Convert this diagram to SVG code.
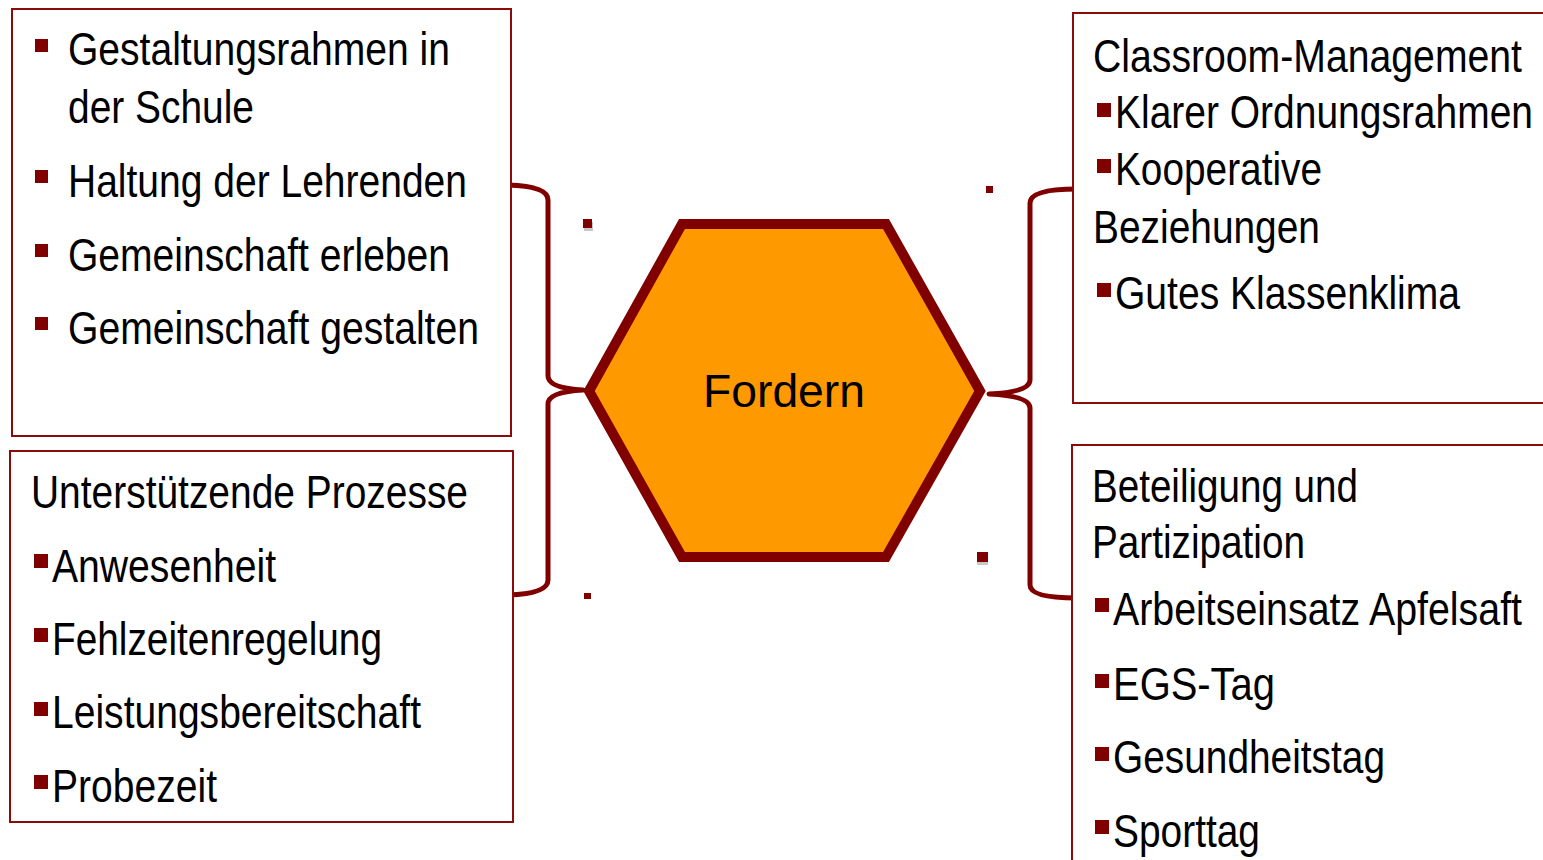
<svg xmlns="http://www.w3.org/2000/svg" width="1543" height="860" viewBox="0 0 1543 860">
<style>
.box{fill:#fff;stroke:#8b0a0a;stroke-width:2}
.t{font-family:"Liberation Sans",Arial,sans-serif;font-size:46px;fill:#000}
.b{fill:#800000}
.br{fill:none;stroke:#800000;stroke-width:5;stroke-linejoin:round}
.dot{fill:#800000}
.sh{fill:#c8c8c8}
</style>
<rect width="1543" height="860" fill="#fff"/>
<g id="connectors">
<path class="br" d="M507,185 Q548,186 548,200 L548,376 Q548,388 583,390 Q548,392 548,404 L548,580 Q548,594 507,595"/>
<path class="br" d="M1077,189 Q1030,189 1030,203 L1030,380 Q1030,392 989,394 Q1030,396 1030,408 L1030,585 Q1030,598 1077,598"/>
<rect class="sh" x="584" y="222" width="9" height="9"/>
<rect class="dot" x="583" y="219" width="9" height="9"/>
<rect class="dot" x="584" y="593" width="7" height="6"/>
<rect class="dot" x="986" y="186" width="7" height="7"/>
<rect class="sh" x="977" y="555" width="11" height="10"/>
<rect class="dot" x="977" y="552" width="11" height="10"/>
</g>
<g id="hexagon">
<polygon class="sh" points="592,394 685,227 889,227 983,394 889,560 685,560"/>
<polygon points="589,391 682,224 886,224 980,391 886,557 682,557" fill="#ff9900" stroke="#800000" stroke-width="10" stroke-linejoin="miter"/>
<text class="t" x="703" y="407" textLength="162" lengthAdjust="spacingAndGlyphs">Fordern</text>
</g>
<g id="box-gestaltung">
<rect class="box" x="12" y="9" width="499" height="427"/>
<rect class="b" x="35" y="39" width="13" height="13"/>
<text class="t" x="68" y="65" textLength="382" lengthAdjust="spacingAndGlyphs">Gestaltungsrahmen in</text>
<text class="t" x="68" y="123" textLength="186" lengthAdjust="spacingAndGlyphs">der Schule</text>
<rect class="b" x="35" y="170" width="13" height="13"/>
<text class="t" x="68" y="197" textLength="399" lengthAdjust="spacingAndGlyphs">Haltung der Lehrenden</text>
<rect class="b" x="35" y="244" width="13" height="13"/>
<text class="t" x="68" y="271" textLength="382" lengthAdjust="spacingAndGlyphs">Gemeinschaft erleben</text>
<rect class="b" x="35" y="317" width="13" height="13"/>
<text class="t" x="68" y="344" textLength="411" lengthAdjust="spacingAndGlyphs">Gemeinschaft gestalten</text>
</g>
<g id="box-prozesse">
<rect class="box" x="10" y="451" width="503" height="371"/>
<text class="t" x="31" y="508" textLength="437" lengthAdjust="spacingAndGlyphs">Unterstützende Prozesse</text>
<rect class="b" x="34" y="554" width="14" height="14"/>
<text class="t" x="52" y="582" textLength="224" lengthAdjust="spacingAndGlyphs">Anwesenheit</text>
<rect class="b" x="34" y="628" width="14" height="14"/>
<text class="t" x="52" y="655" textLength="330" lengthAdjust="spacingAndGlyphs">Fehlzeitenregelung</text>
<rect class="b" x="34" y="702" width="14" height="14"/>
<text class="t" x="52" y="728" textLength="369" lengthAdjust="spacingAndGlyphs">Leistungsbereitschaft</text>
<rect class="b" x="34" y="775" width="14" height="14"/>
<text class="t" x="52" y="802" textLength="165" lengthAdjust="spacingAndGlyphs">Probezeit</text>
</g>
<g id="box-classroom">
<rect class="box" x="1073" y="13" width="480" height="390"/>
<text class="t" x="1093" y="72" textLength="429" lengthAdjust="spacingAndGlyphs">Classroom-Management</text>
<rect class="b" x="1097" y="103" width="14" height="14"/>
<text class="t" x="1115" y="128" textLength="418" lengthAdjust="spacingAndGlyphs">Klarer Ordnungsrahmen</text>
<rect class="b" x="1097" y="159" width="14" height="14"/>
<text class="t" x="1115" y="185" textLength="207" lengthAdjust="spacingAndGlyphs">Kooperative</text>
<text class="t" x="1093" y="243" textLength="227" lengthAdjust="spacingAndGlyphs">Beziehungen</text>
<rect class="b" x="1097" y="283" width="14" height="14"/>
<text class="t" x="1115" y="309" textLength="345" lengthAdjust="spacingAndGlyphs">Gutes Klassenklima</text>
</g>
<g id="box-beteiligung">
<rect class="box" x="1072" y="445" width="480" height="430"/>
<text class="t" x="1092" y="502" textLength="266" lengthAdjust="spacingAndGlyphs">Beteiligung und</text>
<text class="t" x="1092" y="558" textLength="213" lengthAdjust="spacingAndGlyphs">Partizipation</text>
<rect class="b" x="1095" y="598" width="14" height="14"/>
<text class="t" x="1113" y="625" textLength="409" lengthAdjust="spacingAndGlyphs">Arbeitseinsatz Apfelsaft</text>
<rect class="b" x="1095" y="674" width="14" height="14"/>
<text class="t" x="1113" y="700" textLength="162" lengthAdjust="spacingAndGlyphs">EGS-Tag</text>
<rect class="b" x="1095" y="747" width="14" height="14"/>
<text class="t" x="1113" y="773" textLength="272" lengthAdjust="spacingAndGlyphs">Gesundheitstag</text>
<rect class="b" x="1095" y="820" width="14" height="14"/>
<text class="t" x="1113" y="847" textLength="147" lengthAdjust="spacingAndGlyphs">Sporttag</text>
</g>
</svg>
